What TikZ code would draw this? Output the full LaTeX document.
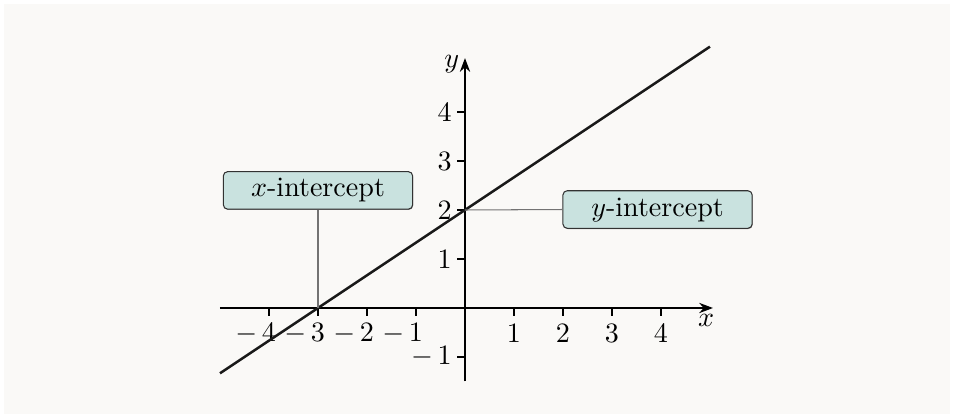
\documentclass[tikz,border=0pt]{standalone}
\usetikzlibrary{arrows.meta,shadows}
\definecolor{bgpaper}{RGB}{250,249,247}
\definecolor{boxfill}{RGB}{201,226,223}
\definecolor{boxline}{RGB}{50,50,50}
\definecolor{connline}{RGB}{115,115,115}
\tikzset{
  axisline/.style={line width=0.8pt, -{Stealth[length=8pt,width=6pt]}},
  tickmark/.style={line width=0.6pt},
  ticklbl/.style={scale=1.63, inner sep=0pt},
  curve/.style={line width=1.45pt, black!90},
  callout/.style={draw=boxline, fill=boxfill, line width=0.6pt, rounded corners=2.5pt,
    scale=1.63, minimum width=2.37cm, minimum height=0.47cm, inner sep=0pt,
    drop shadow={shadow xshift=0.25pt, shadow yshift=-0.45pt, opacity=0.45, fill=black}},
  connector/.style={draw=connline, line width=0.6pt},
}
\begin{document}
\begin{tikzpicture}
\useasboundingbox (-9.490,-2.245) rectangle (9.980,6.286);
\fill[white] (-9.490,-2.245) rectangle (9.980,6.286);
\fill[bgpaper] (-9.408,-2.163) rectangle (9.898,6.204);

% axes
\coordinate (xl) at (-5,0);
\coordinate (xr) at (5.06,0);
\coordinate (yb) at (0,-1.5);
\coordinate (yt) at (0,5.1);
\draw[axisline] (xl) -- (xr);
\draw[axisline] (yb) -- (yt);
\node[scale=1.63, inner sep=0pt] (xlab) at (4.92,-0.25) {$x$};
\node[scale=1.63, inner sep=0pt] (ylab) at (-0.27,4.97) {$y$};

% ticks
\foreach \v in {1,2,3,4} {
  \draw[tickmark] (\v,0) -- (\v,-0.16);
  \draw[tickmark] (-\v,0) -- (-\v,-0.16);
  \node[ticklbl] (xp\v) at (\v,-0.52) {$\v$};
  \node[ticklbl] (xm\v) at (-\v,-0.52) {\llap{$-\,$}$\v$};
  \draw[tickmark] (0,\v) -- (-0.16,\v);
  \node[ticklbl, anchor=east] (yp\v) at (-0.26,\v) {$\v$};
}
\draw[tickmark] (0,-1) -- (-0.16,-1);
\node[ticklbl, anchor=east] (ym1) at (-0.26,-1) {$-\,1$};

% line
\coordinate (la) at (-5,-4/3);
\coordinate (lb) at (5,16/3);
\draw[curve] (la) -- (lb);

% intercepts
\coordinate (xint) at (-3,0);
\coordinate (yint) at (0,2);
\node[callout] (xbox) at (-3,2.4) {$x$-intercept};
\node[callout] (ybox) at (3.93,2.01) {$y$-intercept};
\draw[connector] (xint) -- (xbox.south);
\draw[connector] (yint) -- (ybox.west);
\end{tikzpicture}
\end{document}
